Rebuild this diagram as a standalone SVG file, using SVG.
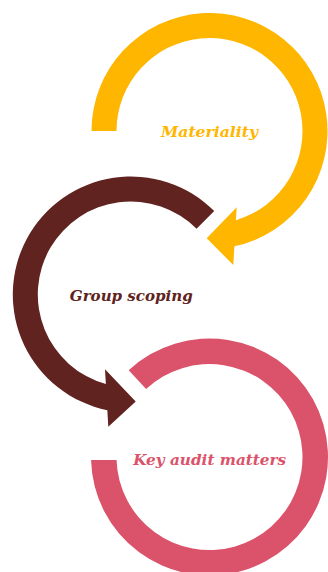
<svg xmlns="http://www.w3.org/2000/svg" width="328" height="572" viewBox="0 0 328 572">
  <style>
    .lbl { font-family: "DejaVu Serif", "Liberation Serif", serif; font-weight: bold; font-style: italic; font-size: 15.5px; text-anchor: middle; }
    .y { fill: #FFB600; }
    .b { fill: #602320; }
    .p { fill: #DB536A; }
  </style>
  <rect width="328" height="572" fill="#ffffff"/>
  <g id="materiality">
    <path class="y" d="M 91.5,131 A118,118 0 1 1 234.4,246.35 L 233.3,265 L 206.7,238.3 L 236.7,207.3 L 235.94,220.16 A93,93 0 1 0 116.5,131 Z"/>
    <text class="lbl y" x="209.5" y="137" textLength="97" lengthAdjust="spacingAndGlyphs">Materiality</text>
  </g>
  <g id="group-scoping">
    <path class="b" d="M 214.24,211.06 A118,118 0 1 0 107.35,410.15 L 108.3,426.7 L 135.7,401.5 L 105,369.3 L 105.85,384.09 A93,93 0 1 1 196.56,228.74 Z"/>
    <text class="lbl b" x="131.3" y="301" textLength="123" lengthAdjust="spacingAndGlyphs">Group scoping</text>
  </g>
  <g id="key-audit-matters">
    <path class="p" d="M 91.04,460 A118.5,118.5 0 1 0 128.7,370.3 L 146.1,389 A93,93 0 1 1 116.55,460 Z"/>
    <text class="lbl p" x="209.7" y="465" textLength="153" lengthAdjust="spacingAndGlyphs">Key audit matters</text>
  </g>
  <g id="connectors"></g>
</svg>
